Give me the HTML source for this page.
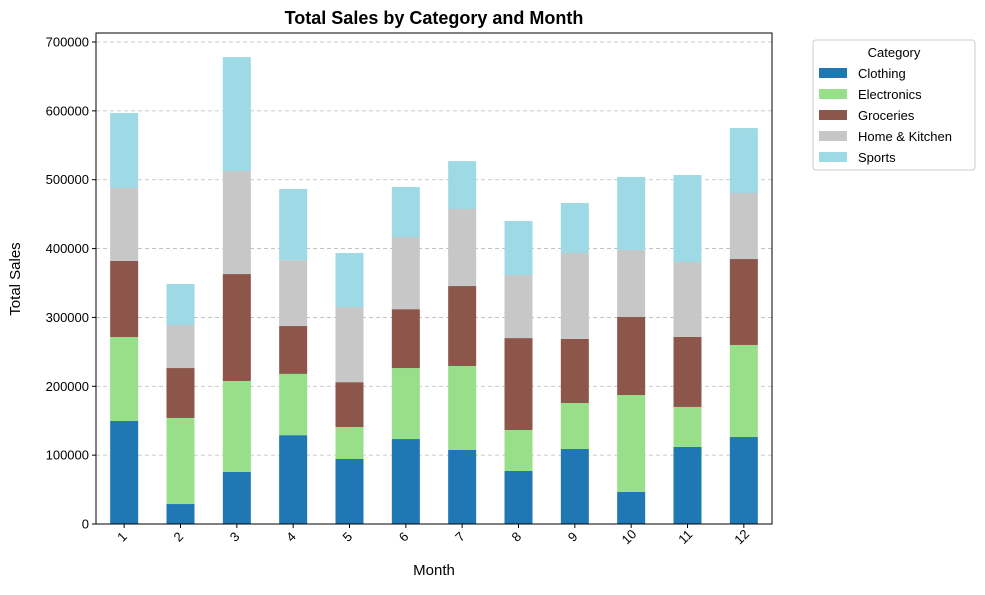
<!DOCTYPE html>
<html><head><meta charset="utf-8"><style>
body{margin:0;background:#fff;font-family:"Liberation Sans",sans-serif;}
svg text{font-family:"Liberation Sans",sans-serif;}
</style></head><body>
<svg id="chart" width="985" height="590" xmlns="http://www.w3.org/2000/svg">
<text x="434" y="24" text-anchor="middle" font-size="18" font-weight="bold">Total Sales by Category and Month</text>
<g id="grid"></g><g id="bars"></g>
<rect x="96" y="33" width="676" height="491" fill="none" stroke="#000" stroke-width="1"/>
<g id="yticks"></g><g id="xticks"></g>
<text x="434" y="575" text-anchor="middle" font-size="15">Month</text>
<text transform="translate(20,279) rotate(-90)" text-anchor="middle" font-size="15">Total Sales</text>
<g id="legend">
<rect x="813" y="40" width="162" height="130" rx="3" fill="#fff" stroke="#ccc"/>
<text x="894" y="57" text-anchor="middle" font-size="13">Category</text>
</g>
</svg>
<script>
const months = ["1","2","3","4","5","6","7","8","9","10","11","12"];
const categories = ["Clothing","Electronics","Groceries","Home & Kitchen","Sports"];
const clothing = [149600,29000,75500,129000,94400,123400,107500,77000,109000,46500,112000,126300];
const electronics = [122000,125000,132200,89000,46500,103100,122000,59500,66700,140800,58000,133700];
const groceries = [110400,72500,155300,69500,65100,85500,116100,133500,93000,113300,101600,124800];
const homeKitchen = [106000,62500,149600,95500,109000,104800,111900,91600,124800,97400,108900,95900];
const sports = [109000,59500,165400,103500,78500,72600,69500,78400,72700,106000,126300,94300];
const yTicks = [0,100000,200000,300000,400000,500000,600000,700000];
const colors = ["#1f77b4","#98df8a","#8c564b","#c7c7c7","#9edae5"];
const series = [clothing,electronics,groceries,homeKitchen,sports];
const NS="http://www.w3.org/2000/svg";
const x0=96,x1=772,yTop=33,yBot=524;
function yS(v){return 524-v*(482/700000);}
function xS(i){return x0+(x1-x0)/months.length*(i+0.5);}
const bw=28;
function mk(t,a,p){const e=document.createElementNS(NS,t);for(const k in a)e.setAttribute(k,a[k]);p.appendChild(e);return e;}
const grid=document.getElementById('grid'),yt=document.getElementById('yticks');
yTicks.forEach(v=>{
  const y=yS(v);
  const g=mk('line',{x1:x0,x2:x1,y1:y,y2:y,stroke:'#bbb','stroke-dasharray':'4,3','stroke-width':0.8},grid);
  
  
  mk('line',{x1:x0-4,x2:x0,y1:y,y2:y,stroke:'#000'},yt);
  const t=mk('text',{x:x0-7,y:y+4.5,'text-anchor':'end','font-size':13},yt);
  t.textContent=v;
  
  
});
const bars=document.getElementById('bars'),xt=document.getElementById('xticks');
months.forEach((m,i)=>{
  let c=0;const cx=xS(i);
  series.forEach((s,k)=>{
    const y1=yS(c),y2=yS(c+s[i]);
    const r=mk('rect',{x:cx-bw/2,y:y2,width:bw,height:y1-y2,fill:colors[k]},bars);
    
    
    c+=s[i];
  });
  mk('line',{x1:cx,x2:cx,y1:yBot,y2:yBot+4,stroke:'#000'},xt);
  const t=mk('text',{'text-anchor':'middle','font-size':13,transform:`translate(${cx+1},${yBot+16}) rotate(-45)`},xt);
  t.textContent=m;
  
  
});
const lg=document.getElementById('legend');
categories.forEach((c,k)=>{
  const y=73+k*21;
  const r=mk('rect',{x:819,y:y-5,width:28,height:10,fill:colors[k]},lg);
  
  
  const t=mk('text',{x:858,y:y+5,'font-size':13},lg);
  t.textContent=c;
  
  
});
</script>
</body></html>
